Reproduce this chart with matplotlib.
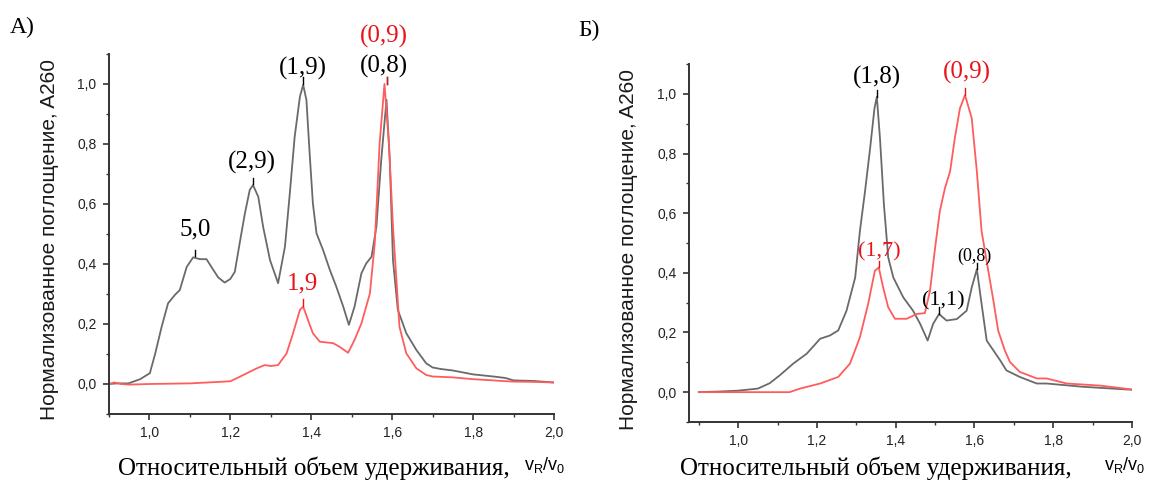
import matplotlib
matplotlib.use("Agg")
import matplotlib.pyplot as plt
from matplotlib.ticker import MultipleLocator, FuncFormatter

# --- panel A data ---
xa_gray = [0.90, 0.92, 0.948, 0.977, 1.001, 1.014, 1.03, 1.046, 1.063, 1.075, 1.092, 1.108, 1.125,
           1.141, 1.158, 1.17, 1.186, 1.20, 1.211, 1.223, 1.236, 1.248, 1.256, 1.269, 1.281, 1.298,
           1.318, 1.335, 1.347, 1.359, 1.372, 1.38, 1.388, 1.396, 1.404, 1.413, 1.429, 1.446, 1.462,
           1.479, 1.493, 1.507, 1.524, 1.536, 1.549, 1.561, 1.573, 1.586, 1.594, 1.602, 1.614, 1.635,
           1.66, 1.684, 1.70, 1.72, 1.75, 1.80, 1.85, 1.88, 1.90, 1.95, 2.00]
ya_gray = [0.0, 0.002, 0.002, 0.016, 0.036, 0.10, 0.19, 0.269, 0.297, 0.313, 0.39, 0.422, 0.416,
           0.416, 0.38, 0.355, 0.338, 0.35, 0.374, 0.469, 0.569, 0.647, 0.663, 0.624, 0.524, 0.413,
           0.336, 0.458, 0.636, 0.824, 0.958, 0.997, 0.947, 0.769, 0.602, 0.502, 0.447, 0.38, 0.324,
           0.258, 0.197, 0.258, 0.369, 0.402, 0.424, 0.524, 0.747, 0.947, 0.747, 0.413, 0.247, 0.169,
           0.113, 0.069, 0.055, 0.05, 0.045, 0.032, 0.025, 0.02, 0.012, 0.01, 0.005]

xa_red = [0.90, 0.913, 0.93, 0.95, 1.00, 1.10, 1.20, 1.223, 1.265, 1.285, 1.30, 1.318, 1.339, 1.355,
          1.372, 1.38, 1.392, 1.404, 1.421, 1.454, 1.47, 1.491, 1.507, 1.524, 1.545, 1.557, 1.569,
          1.581, 1.592, 1.602, 1.618, 1.635, 1.66, 1.684, 1.70, 1.75, 1.80, 1.85, 1.87, 1.90, 1.95, 2.00]
ya_red = [0.0, 0.005, 0.0, -0.002, 0.0, 0.002, 0.009, 0.024, 0.052, 0.063, 0.06, 0.063, 0.102, 0.169,
          0.247, 0.258, 0.213, 0.169, 0.141, 0.136, 0.124, 0.104, 0.147, 0.202, 0.302, 0.469, 0.802,
          1.0, 0.802, 0.524, 0.191, 0.102, 0.052, 0.03, 0.025, 0.022, 0.016, 0.012, 0.01, 0.008, 0.007, 0.005]

# --- panel Б data ---
xb_gray = [0.90, 0.95, 1.00, 1.05, 1.08, 1.106, 1.14, 1.174, 1.208, 1.233, 1.254, 1.275, 1.297,
           1.309, 1.322, 1.335, 1.346, 1.352, 1.36, 1.37, 1.381, 1.394, 1.419, 1.444, 1.462, 1.481,
           1.495, 1.51, 1.529, 1.555, 1.58, 1.593, 1.606, 1.618, 1.631, 1.648, 1.665, 1.681, 1.715,
           1.758, 1.783, 1.876, 1.95, 2.00]
yb_gray = [0.0, 0.002, 0.005, 0.012, 0.03, 0.057, 0.096, 0.129, 0.179, 0.19, 0.207, 0.273, 0.384,
           0.54, 0.673, 0.818, 0.951, 0.99, 0.851, 0.629, 0.451, 0.384, 0.318, 0.273, 0.229, 0.173,
           0.229, 0.262, 0.24, 0.245, 0.273, 0.351, 0.412, 0.296, 0.173, 0.14, 0.107, 0.073, 0.051,
           0.029, 0.029, 0.018, 0.012, 0.008]

xb_red = [0.90, 1.00, 1.13, 1.157, 1.208, 1.254, 1.284, 1.309, 1.33, 1.347, 1.357, 1.368, 1.381,
          1.398, 1.428, 1.453, 1.474, 1.487, 1.50, 1.512, 1.525, 1.538, 1.55, 1.563, 1.576, 1.593,
          1.606, 1.618, 1.635, 1.648, 1.66, 1.677, 1.69, 1.715, 1.758, 1.783, 1.834, 1.919, 2.00]
yb_red = [0.0, 0.0, 0.0, 0.012, 0.029, 0.051, 0.096, 0.184, 0.296, 0.407, 0.418, 0.351, 0.284,
          0.246, 0.246, 0.262, 0.265, 0.34, 0.484, 0.607, 0.684, 0.74, 0.851, 0.951, 0.996, 0.918,
          0.74, 0.54, 0.407, 0.307, 0.207, 0.14, 0.101, 0.068, 0.046, 0.046, 0.029, 0.022, 0.009]

# peak labels: text, peak x, peak y, text x, text y, colour, size
labels_a = [("5,0", 1.112, 0.425, 1.114, 0.515, "k", 18),
            ("(2,9)", 1.256, 0.665, 1.253, 0.737, "k", 18),
            ("(1,9)", 1.38, 1.0, 1.379, 1.053, "k", 18),
            ("(0,8)", 1.586, 1.0, 1.58, 1.059, "k", 18),
            ("(0,9)", 1.586, 1.0, 1.58, 1.157, "#e8141c", 18),
            ("1,9", 1.38, 0.26, 1.379, 0.335, "#e8141c", 18)]
labels_b = [("(1,8)", 1.352, 0.99, 1.353, 1.056, "k", 18),
            ("(0,9)", 1.576, 0.996, 1.58, 1.073, "#e8141c", 18),
            ("(1,7)", 1.357, 0.418, 1.358, 0.47, "#e8141c", 16),
            ("(1,1)", 1.51, 0.262, 1.522, 0.307, "k", 16),
            ("(0,8)", 1.606, 0.412, 1.600, 0.455, "k", 13)]

GRAY = "#6a6a6a"
RED = "#ff5c5c"
AX = "#333333"

fig = plt.figure(figsize=(11.51, 4.82), dpi=100)
axA = fig.add_axes([0.0947, 0.1411, 0.3866, 0.747])
axB = fig.add_axes([0.5986, 0.1245, 0.3849, 0.7427])

comma = FuncFormatter(lambda v, p: f"{v:.1f}".replace(".", ","))


def style(ax, xmin, minor_x):
    ax.set_xlim(xmin, 2.0)
    ax.set_ylim(-0.1, 1.1)
    for s in ("top", "right"):
        ax.spines[s].set_visible(False)
    for s in ("left", "bottom"):
        ax.spines[s].set_color(AX)
        ax.spines[s].set_linewidth(1.4)
    ax.xaxis.set_major_locator(MultipleLocator(0.2))
    ax.xaxis.set_minor_locator(MultipleLocator(minor_x))
    ax.yaxis.set_major_locator(MultipleLocator(0.2))
    ax.yaxis.set_minor_locator(MultipleLocator(0.1))
    ax.xaxis.set_major_formatter(comma)
    ax.yaxis.set_major_formatter(comma)
    ax.tick_params(which="major", length=4, width=1.2, color=AX, labelsize=10,
                   labelcolor="#222222", pad=5)
    ax.tick_params(which="minor", length=2.5, width=1.0, color=AX)
    for lab in ax.get_xticklabels() + ax.get_yticklabels():
        lab.set_fontfamily("Liberation Sans")


def add_labels(ax, labels):
    for text, px, py, tx, ty, c, fs in labels:
        ax.plot([px, px], [py, py + 0.022], color=c, lw=1.0, clip_on=False)
        ax.text(tx, ty, text, color=c, fontsize=fs, family="Liberation Serif",
                ha="center", va="center", clip_on=False)


style(axA, 0.9, 0.1)
axA.plot(xa_gray, ya_gray, color=GRAY, lw=1.3, solid_joinstyle="round")
axA.plot(xa_red, ya_red, color=RED, lw=1.3, solid_joinstyle="round")
add_labels(axA, labels_a)

style(axB, 0.875, 0.1)
axB.plot(xb_gray, yb_gray, color=GRAY, lw=1.3, solid_joinstyle="round")
axB.plot(xb_red, yb_red, color=RED, lw=1.3, solid_joinstyle="round")
add_labels(axB, labels_b)

# axis titles
ylab = "Нормализованное поглощение, A260"
fig.text(50 / 1151, 1 - 239 / 482, ylab, rotation=90, ha="center", va="center",
         fontsize=15, family="Liberation Sans", color="#1a1a1a")
fig.text(628 / 1151, 1 - 250 / 482, ylab, rotation=90, ha="center", va="center",
         fontsize=15, family="Liberation Sans", color="#1a1a1a")

xlab = "Относительный объем удерживания,"
fig.text(118 / 1151, 1 - 468 / 482, xlab, ha="left", va="center", fontsize=18,
         family="Liberation Serif")
fig.text(524 / 1151, 1 - 465 / 482, r"$\mathregular{v_R/v_0}$", ha="left", va="center",
         fontsize=13, family="Liberation Sans")
fig.text(680 / 1151, 1 - 468 / 482, xlab, ha="left", va="center", fontsize=18,
         family="Liberation Serif")
fig.text(1104 / 1151, 1 - 465 / 482, r"$\mathregular{v_R/v_0}$", ha="left", va="center",
         fontsize=13, family="Liberation Sans")

fig.text(10 / 1151, 1 - 27 / 482, "А)", ha="left", va="center", fontsize=17, family="Liberation Serif")
fig.text(578 / 1151, 1 - 30 / 482, "Б)", ha="left", va="center", fontsize=17, family="Liberation Serif")

fig.savefig("out.png", dpi=100)
